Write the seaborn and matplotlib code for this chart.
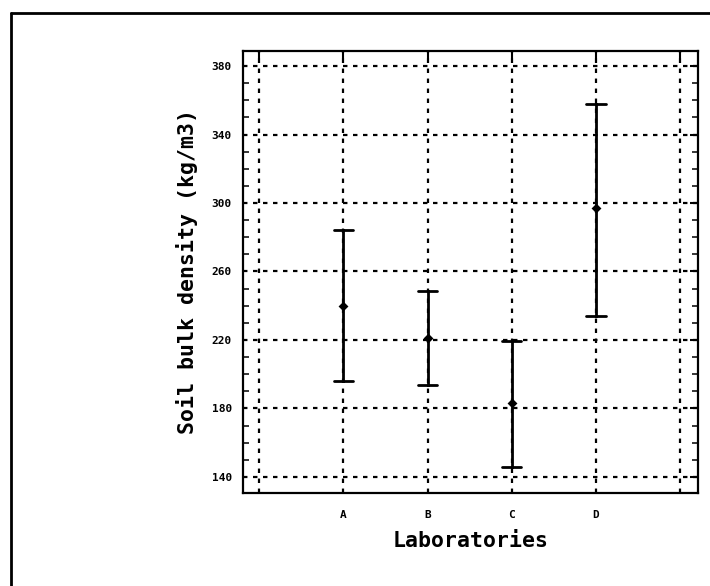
import matplotlib
matplotlib.use("Agg")
import matplotlib.pyplot as plt
from matplotlib.lines import Line2D
from matplotlib.ticker import MultipleLocator
import numpy as np
import pandas as pd
import seaborn as sns

# values (kg/m3)
labs = ["A", "B", "C", "D"]
means = [239.7, 221.0, 183.3, 297.0]
lower = [196.2, 193.5, 146.0, 234.0]
upper = [284.4, 248.6, 219.4, 358.0]

yticks = [140, 180, 220, 260, 300, 340, 380]
xticklabels = ["", "A", "B", "C", "D", ""]

# 3 rows per lab: lower / mean / upper -> median = mean, 100% PI = bar
rows = []
for lab, lo, m, hi in zip(labs, lower, means, upper):
    for v in (lo, m, hi):
        rows.append({"lab": lab, "val": v})
df = pd.DataFrame(rows)

sns.set_style("white")
plt.rcParams['font.family'] = ['DejaVu Sans Mono', 'DejaVu Sans']
plt.rcParams['font.weight'] = 'bold'
plt.rcParams['text.color'] = 'black'
plt.rcParams['axes.labelcolor'] = 'black'

fig = plt.figure(figsize=(7.1, 5.86), dpi=100)
ax = fig.add_axes([0.3423, 0.1587, 0.6408, 0.7543])

order = [" ", "A", "B", "C", "D", "  "]
sns.pointplot(data=df, x="lab", y="val", order=order,
              estimator=np.median, errorbar=("pi", 100),
              color="black", linestyle="none", marker="D",
              markersize=3, capsize=0.23,
              err_kws={"linewidth": 2.0}, ax=ax)

ax.set_xlim(-0.19, 5.21)
ax.set_ylim(130.6, 388.8)
ax.set_xticks(range(6))
ax.set_xticklabels(xticklabels)
ax.set_yticks(yticks)
ax.yaxis.set_minor_locator(MultipleLocator(10))

ax.grid(True, which="major", color="black", linestyle=(0, (2, 2.5)), linewidth=1.6)
ax.set_axisbelow(True)

for s in ax.spines.values():
    s.set_visible(True)
    s.set_color("black")
    s.set_linewidth(1.6)

ax.tick_params(axis="both", which="major", direction="in", length=6, width=1.5,
               top=True, right=True, labelsize=8, colors="black")
ax.tick_params(axis="y", which="minor", direction="in", length=4, width=1.3,
               left=True, right=True)
ax.tick_params(axis="y", which="major", pad=8)
ax.tick_params(axis="x", which="major", pad=12)

ax.set_xlabel("Laboratories", fontsize=15.5, fontweight="bold", labelpad=8, color="black")
ax.set_ylabel("Soil bulk density (kg/m3)", fontsize=15.5, fontweight="bold", labelpad=10, color="black")

# frame around the whole picture (only top and left edges show)
fig.add_artist(Line2D([0.0155, 0.0155], [0.0, 0.978], color="black", lw=2, transform=fig.transFigure))
fig.add_artist(Line2D([0.0155, 1.0], [0.978, 0.978], color="black", lw=2, transform=fig.transFigure))

fig.savefig("out.png", dpi=100)
